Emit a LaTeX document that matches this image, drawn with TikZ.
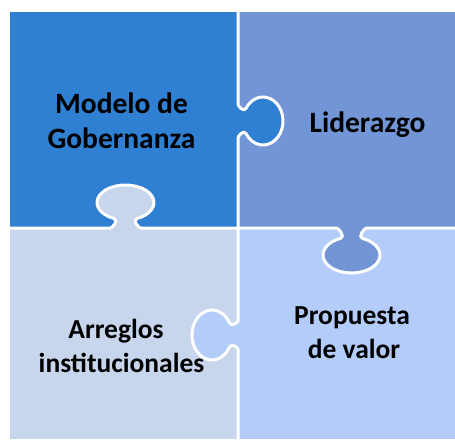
\documentclass[tikz,border=0pt]{standalone}
\usepackage{fontspec}
\setmainfont{Carlito}
\definecolor{ctl}{HTML}{2F7FD3}
\definecolor{ctr}{HTML}{7295D5}
\definecolor{cbl}{HTML}{C7D6ED}
\definecolor{cbr}{HTML}{B4CCF9}
\newcommand\pzcalc[5]{%
  \pgfmathsetmacro\pzt{180-asin(#4/#3)}%
  \pgfmathsetmacro\pzpx{#1+#2*cos(\pzt)}%
  \pgfmathsetmacro\pzcx{\pzpx-0.2*#2*sin(\pzt)}%
  \pgfmathsetmacro\pzcy{#4+0.2*#3*cos(\pzt)}%
  \pgfmathsetmacro\pzm{(#4+#5)/2}%
  \def\pzn{#4}\def\pzh{#5}\def\pza{#2}\def\pzb{#3}%
}
\tikzset{
  sep/.style={draw=white, line width=3pt, line join=round},
  lbltop/.style={font=\bfseries\fontsize{29.5}{35}\selectfont, anchor=base, inner sep=0pt},
  lblbot/.style={font=\bfseries\fontsize{27.5}{33}\selectfont, anchor=base, inner sep=0pt}
}
\begin{document}
\begin{tikzpicture}[x=1pt,y=1pt,yscale=-1]
\useasboundingbox (0,0) rectangle (455,439);
\fill[white] (0,0) rectangle (455,439);
% pieces
\fill[ctl] (10,12) rectangle (238,228);
\fill[ctr] (238,12) rectangle (455,228);
\fill[cbl] (10,228) rectangle (238,439);
\fill[cbr] (238,228) rectangle (455,439);
% knob A: top-left into top-right
\begin{scope}[shift={(238,121)}]
  \pzcalc{25}{20}{24}{12.5}{17}
  \fill[ctl] (0,-\pzh) .. controls (0,-\pzm) and (\pzcx,-\pzcy) .. (\pzpx,-\pzn)
    arc[start angle=-\pzt, end angle=\pzt, x radius=\pza, y radius=\pzb]
    .. controls (\pzcx,\pzcy) and (0,\pzm) .. (0,\pzh) -- cycle;
  \draw[sep] (0,-109) -- (0,-\pzh) .. controls (0,-\pzm) and (\pzcx,-\pzcy) .. (\pzpx,-\pzn)
    arc[start angle=-\pzt, end angle=\pzt, x radius=\pza, y radius=\pzb]
    .. controls (\pzcx,\pzcy) and (0,\pzm) .. (0,\pzh) -- (0,107);
\end{scope}
% knob B: bottom-left into top-left
\begin{scope}[shift={(125.5,228)}, rotate=-90]
  \pzcalc{25.5}{17.5}{28.5}{11.5}{15}
  \fill[cbl] (0,-\pzh) .. controls (0,-\pzm) and (\pzcx,-\pzcy) .. (\pzpx,-\pzn)
    arc[start angle=-\pzt, end angle=\pzt, x radius=\pza, y radius=\pzb]
    .. controls (\pzcx,\pzcy) and (0,\pzm) .. (0,\pzh) -- cycle;
  \draw[sep] (0,-115.5) -- (0,-\pzh) .. controls (0,-\pzm) and (\pzcx,-\pzcy) .. (\pzpx,-\pzn)
    arc[start angle=-\pzt, end angle=\pzt, x radius=\pza, y radius=\pzb]
    .. controls (\pzcx,\pzcy) and (0,\pzm) .. (0,\pzh) -- (0,112.5);
\end{scope}
% knob C: top-right into bottom-right
\begin{scope}[shift={(351.5,228)}, rotate=90]
  \pzcalc{27}{18}{28.5}{11}{15}
  \fill[ctr] (0,-\pzh) .. controls (0,-\pzm) and (\pzcx,-\pzcy) .. (\pzpx,-\pzn)
    arc[start angle=-\pzt, end angle=\pzt, x radius=\pza, y radius=\pzb]
    .. controls (\pzcx,\pzcy) and (0,\pzm) .. (0,\pzh) -- cycle;
  \draw[sep] (0,-103.5) -- (0,-\pzh) .. controls (0,-\pzm) and (\pzcx,-\pzcy) .. (\pzpx,-\pzn)
    arc[start angle=-\pzt, end angle=\pzt, x radius=\pza, y radius=\pzb]
    .. controls (\pzcx,\pzcy) and (0,\pzm) .. (0,\pzh) -- (0,113.5);
\end{scope}
% knob D: bottom-right into bottom-left
\begin{scope}[shift={(238,335)}, rotate=180]
  \pzcalc{26}{20}{25}{12}{14}
  \fill[cbr] (0,-\pzh) .. controls (0,-\pzm) and (\pzcx,-\pzcy) .. (\pzpx,-\pzn)
    arc[start angle=-\pzt, end angle=\pzt, x radius=\pza, y radius=\pzb]
    .. controls (\pzcx,\pzcy) and (0,\pzm) .. (0,\pzh) -- cycle;
  \draw[sep] (0,-104) -- (0,-\pzh) .. controls (0,-\pzm) and (\pzcx,-\pzcy) .. (\pzpx,-\pzn)
    arc[start angle=-\pzt, end angle=\pzt, x radius=\pza, y radius=\pzb]
    .. controls (\pzcx,\pzcy) and (0,\pzm) .. (0,\pzh) -- (0,107);
\end{scope}
% labels
\node[lbltop] (m1) at (121.5,113) {Modelo de};
\node[lbltop] (m2) at (121.5,148) {Gobernanza};
\node[lbltop] (l1) at (367.5,132) {Liderazgo};
\node[lblbot] (p1) at (352,324) {Propuesta};
\node[lblbot] (p2) at (354,358) {de valor};
\node[lblbot] (a1) at (116,338) {Arreglos};
\node[lblbot] (a2) at (121.5,372) {institucionales};
\end{tikzpicture}
\end{document}
